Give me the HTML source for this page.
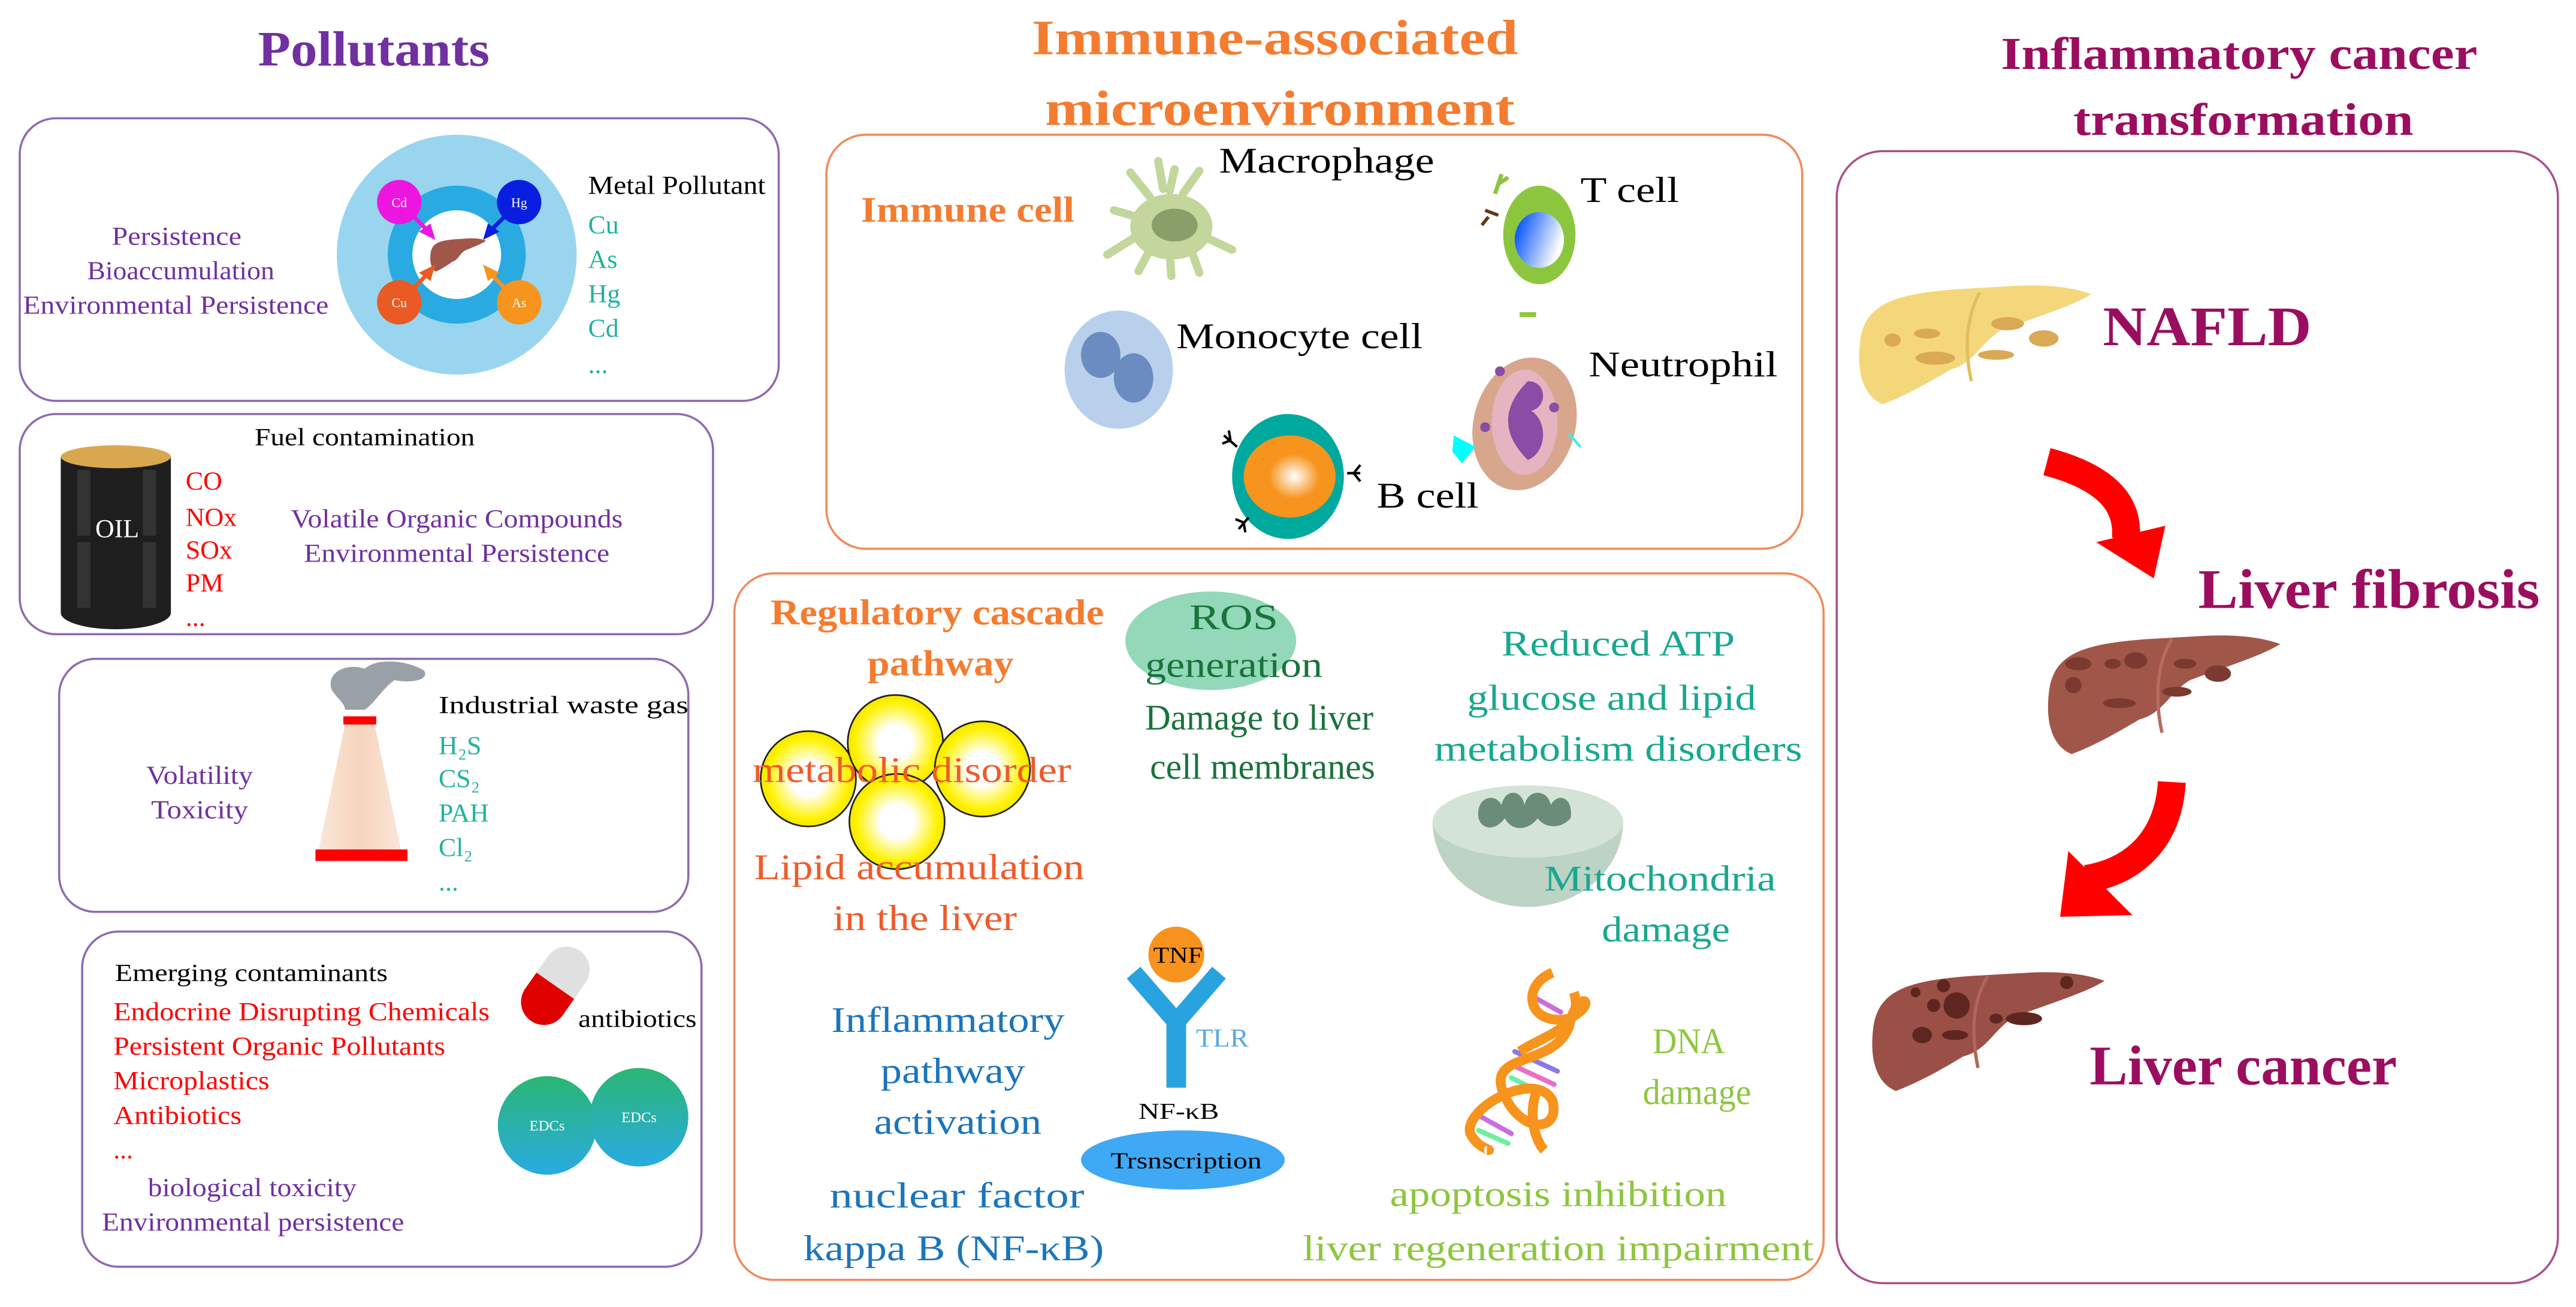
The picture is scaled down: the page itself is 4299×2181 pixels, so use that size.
<!DOCTYPE html>
<html><head><meta charset="utf-8"><style>
html,body{margin:0;padding:0;background:#fff;}
svg{display:block;}
text{font-family:"Liberation Serif",serif;}
</style></head><body>
<svg width="4299" height="2181" viewBox="0 0 1568 795.5" xmlns="http://www.w3.org/2000/svg">
<defs>
<radialGradient id="fat" cx="50%" cy="50%" r="50%"><stop offset="0.35" stop-color="#fff"/><stop offset="0.85" stop-color="#fff200"/><stop offset="1" stop-color="#f5e600"/></radialGradient>
<radialGradient id="borange" cx="55%" cy="50%" r="55%"><stop offset="0" stop-color="#fff"/><stop offset="0.5" stop-color="#f7941d"/><stop offset="1" stop-color="#f7941d"/></radialGradient>
<linearGradient id="tblue" x1="0" y1="0" x2="1" y2="0.4"><stop offset="0.1" stop-color="#0050ff"/><stop offset="1" stop-color="#fff"/></linearGradient>
<linearGradient id="edc" x1="0" y1="0" x2="0" y2="1"><stop offset="0" stop-color="#2bb673"/><stop offset="1" stop-color="#29abe2"/></linearGradient>
<linearGradient id="chim" x1="0" y1="0" x2="1" y2="0"><stop offset="0" stop-color="#fbe6d8"/><stop offset="0.5" stop-color="#f6d3bd"/><stop offset="1" stop-color="#fbe6d8"/></linearGradient>
<g id="liver"><path d="M0,40 C2,15 20,9 60,6 L95,4 C115,3 130,5 141,9 C130,16 110,22 86,31 C73,39 70,51 55,55 C45,61 30,70 14,76 C4,72 -2,60 0,40 Z"/></g>
</defs>

<!-- Titles -->
<text x="157" y="40" font-size="30" font-weight="bold" fill="#7030a0" textLength="141" lengthAdjust="spacingAndGlyphs">Pollutants</text>
<text x="628" y="33" font-size="30" font-weight="bold" fill="#f47c30" textLength="296" lengthAdjust="spacingAndGlyphs">Immune-associated</text>
<text x="636" y="76" font-size="30" font-weight="bold" fill="#f47c30" textLength="286" lengthAdjust="spacingAndGlyphs">microenvironment</text>
<text x="1218" y="42" font-size="28" font-weight="bold" fill="#9b0e5f" textLength="290" lengthAdjust="spacingAndGlyphs">Inflammatory cancer</text>
<text x="1262" y="82" font-size="28" font-weight="bold" fill="#9b0e5f" textLength="207" lengthAdjust="spacingAndGlyphs">transformation</text>

<!-- Boxes -->
<g fill="none" stroke-width="1.3">
<rect x="12" y="72" width="462" height="172" rx="22" stroke="#8e6ab0"/>
<rect x="12" y="252" width="422" height="134" rx="22" stroke="#8e6ab0"/>
<rect x="36" y="401" width="383" height="154" rx="22" stroke="#8e6ab0"/>
<rect x="50" y="567" width="377" height="204" rx="22" stroke="#8e6ab0"/>
<rect x="503" y="82" width="594" height="252" rx="24" stroke="#f08a5d"/>
<rect x="447" y="349" width="663" height="430" rx="24" stroke="#f08a5d"/>
<rect x="1118" y="92" width="439" height="689" rx="28" stroke="#a8508c"/>
</g>

<!-- Box1: metal -->
<circle cx="278" cy="155" r="73" fill="#99d5ef"/>
<circle cx="278" cy="155" r="42" fill="#29abe2"/>
<circle cx="278" cy="155" r="27" fill="#fff"/>
<use href="#liver" transform="translate(262,144) scale(0.24,0.28)" fill="#a0574a"/>
<circle cx="243" cy="123" r="13.5" fill="#ec16e0"/>
<circle cx="316" cy="123" r="13.5" fill="#0a1ee0"/>
<circle cx="243" cy="184" r="13.5" fill="#ea5a24"/>
<circle cx="316" cy="184" r="13.5" fill="#f7941d"/>
<path d="M252,132 L262,142" stroke="#ec16e0" stroke-width="2.5"/><polygon points="265,146 255,141 262,136" fill="#ec16e0"/>
<path d="M307,132 L297,142" stroke="#0a1ee0" stroke-width="2.5"/><polygon points="294,146 297,136 304,141" fill="#0a1ee0"/>
<path d="M252,175 L262,165" stroke="#ea5a24" stroke-width="2.5"/><polygon points="265,161 262,171 255,166" fill="#ea5a24"/>
<path d="M307,175 L297,165" stroke="#f7941d" stroke-width="2.5"/><polygon points="294,161 304,166 297,171" fill="#f7941d"/>
<g font-size="8" fill="#fff" text-anchor="middle"><text x="243" y="126">Cd</text><text x="316" y="126">Hg</text><text x="243" y="187">Cu</text><text x="316" y="187">As</text></g>
<g font-size="16" fill="#7030a0">
<text x="68" y="149" textLength="79" lengthAdjust="spacingAndGlyphs">Persistence</text>
<text x="53" y="170" textLength="114" lengthAdjust="spacingAndGlyphs">Bioaccumulation</text>
<text x="14" y="191" textLength="186" lengthAdjust="spacingAndGlyphs">Environmental Persistence</text>
</g>
<text x="358" y="118" font-size="16" fill="#000" textLength="108" lengthAdjust="spacingAndGlyphs">Metal Pollutant</text>
<g font-size="16" fill="#20b2a0"><text x="358" y="142">Cu</text><text x="358" y="163">As</text><text x="358" y="184">Hg</text><text x="358" y="205">Cd</text><text x="358" y="227">...</text></g>

<!-- Box2: fuel -->
<path d="M37,278 L37,373 A33.5,10 0 0 0 104,373 L104,278 Z" fill="#1e1e1e"/>
<ellipse cx="70.5" cy="278" rx="33.5" ry="7" fill="#d9a84e"/>
<rect x="47" y="286" width="8" height="40" fill="#333"/><rect x="47" y="330" width="8" height="40" fill="#333"/>
<rect x="87" y="286" width="8" height="40" fill="#333"/><rect x="87" y="330" width="8" height="40" fill="#333"/>
<text x="58" y="327" font-size="16" fill="#fff">OIL</text>
<text x="155" y="271" font-size="15" fill="#000" textLength="134" lengthAdjust="spacingAndGlyphs">Fuel contamination</text>
<g font-size="16" fill="#f00"><text x="113" y="298">CO</text><text x="113" y="320">NOx</text><text x="113" y="340">SOx</text><text x="113" y="360">PM</text><text x="113" y="381">...</text></g>
<g font-size="16" fill="#7030a0">
<text x="177" y="321" textLength="202" lengthAdjust="spacingAndGlyphs">Volatile Organic Compounds</text>
<text x="185" y="342" textLength="186" lengthAdjust="spacingAndGlyphs">Environmental Persistence</text>
</g>

<!-- Box3: industrial -->
<path d="M202,420 C198,410 210,403 222,407 C230,400 248,402 258,408 C262,414 250,416 240,414 C232,420 228,428 222,432 L210,432 C210,428 205,425 202,420 Z" fill="#9aa0a8"/>
<rect x="209" y="436" width="20" height="5" fill="#f00"/>
<polygon points="210,441 228,441 244,517 194,517" fill="url(#chim)"/>
<rect x="192" y="517" width="56" height="7" fill="#f00"/>
<text x="267" y="434" font-size="15" fill="#000" textLength="152" lengthAdjust="spacingAndGlyphs">Industrial waste gas</text>
<g font-size="16" fill="#20b2a0"><text x="267" y="459">H₂S</text><text x="267" y="479">CS₂</text><text x="267" y="500">PAH</text><text x="267" y="521">Cl₂</text><text x="267" y="542">...</text></g>
<g font-size="16" fill="#7030a0"><text x="89" y="477" textLength="65" lengthAdjust="spacingAndGlyphs">Volatility</text><text x="92" y="498" textLength="59" lengthAdjust="spacingAndGlyphs">Toxicity</text></g>

<!-- Box4: emerging -->
<text x="70" y="597" font-size="15" fill="#000" textLength="166" lengthAdjust="spacingAndGlyphs">Emerging contaminants</text>
<g font-size="16" fill="#f00">
<text x="69" y="621" textLength="229" lengthAdjust="spacingAndGlyphs">Endocrine Disrupting Chemicals</text>
<text x="69" y="642" textLength="202" lengthAdjust="spacingAndGlyphs">Persistent Organic Pollutants</text>
<text x="69" y="663" textLength="95" lengthAdjust="spacingAndGlyphs">Microplastics</text>
<text x="69" y="684" textLength="78" lengthAdjust="spacingAndGlyphs">Antibiotics</text>
<text x="69" y="705">...</text>
</g>
<g font-size="16" fill="#7030a0">
<text x="90" y="728" textLength="127" lengthAdjust="spacingAndGlyphs">biological toxicity</text>
<text x="62" y="749" textLength="184" lengthAdjust="spacingAndGlyphs">Environmental persistence</text>
</g>
<g transform="rotate(35 338 600)">
<path d="M324,600 L324,588 A14,14 0 0 1 352,588 L352,600 Z" fill="#e0e0e0"/>
<path d="M324,600 L352,600 L352,612 A14,14 0 0 1 324,612 Z" fill="#e00000"/>
</g>
<text x="352" y="625" font-size="15" fill="#000" textLength="72" lengthAdjust="spacingAndGlyphs">antibiotics</text>
<circle cx="333" cy="685" r="30" fill="url(#edc)"/>
<circle cx="389" cy="680" r="30" fill="url(#edc)"/>
<g font-size="9" fill="#fff" text-anchor="middle"><text x="333" y="688">EDCs</text><text x="389" y="683">EDCs</text></g>

<!-- Box5: immune cells -->
<text x="524" y="135" font-size="22" font-weight="bold" fill="#f47c30" textLength="130" lengthAdjust="spacingAndGlyphs">Immune cell</text>
<g font-size="22" fill="#000">
<text x="742" y="105" textLength="131" lengthAdjust="spacingAndGlyphs">Macrophage</text>
<text x="962" y="123" textLength="60" lengthAdjust="spacingAndGlyphs">T cell</text>
<text x="716" y="212" textLength="150" lengthAdjust="spacingAndGlyphs">Monocyte cell</text>
<text x="967" y="229" textLength="115" lengthAdjust="spacingAndGlyphs">Neutrophil</text>
<text x="838" y="309" textLength="62" lengthAdjust="spacingAndGlyphs">B cell</text>
</g>
<!-- macrophage -->
<g stroke="#c3d69b" stroke-width="5" stroke-linecap="round">
<path d="M708,115 L705,98"/><path d="M700,120 L688,105"/><path d="M720,118 L730,104"/><path d="M712,116 L715,103"/>
<path d="M690,145 L674,155"/><path d="M735,145 L750,152"/><path d="M700,152 L693,165"/><path d="M712,155 L713,168"/><path d="M725,152 L730,166"/><path d="M692,132 L678,128"/>
</g>
<ellipse cx="713" cy="138" rx="25" ry="20" fill="#c3d69b"/>
<ellipse cx="715" cy="137" rx="14" ry="10" fill="#8a9e6a"/>
<!-- T cell -->
<path d="M910,118 L914,106 M912,112 L918,108" stroke="#8cc63f" stroke-width="2.5"/>
<path d="M912,131 L904,128 M906,132 L902,137" stroke="#603813" stroke-width="2"/>
<ellipse cx="937" cy="143" rx="22" ry="30" fill="#8cc63f"/>
<ellipse cx="937" cy="146" rx="15" ry="17" fill="url(#tblue)"/>
<!-- monocyte -->
<ellipse cx="681" cy="225" rx="33" ry="36" fill="#b8d0ec"/>
<ellipse cx="670" cy="216" rx="12" ry="14" fill="#6a8cc0"/>
<ellipse cx="690" cy="230" rx="12" ry="15" fill="#6a8cc0"/>
<!-- neutrophil -->
<rect x="925" y="190" width="10" height="3" fill="#8cc63f"/>
<ellipse cx="928" cy="258" rx="31" ry="41" fill="#d8a68c" transform="rotate(15 928 258)"/>
<ellipse cx="928" cy="257" rx="20" ry="32" fill="#e6b4c0"/>
<path d="M930,232 C942,232 942,248 932,250 C942,256 942,275 930,280 C920,270 918,262 918,256 C918,248 922,240 930,232 Z" fill="#8a4ca5"/>
<circle cx="913" cy="226" r="3" fill="#8a4ca5"/><circle cx="946" cy="248" r="3" fill="#8a4ca5"/><circle cx="904" cy="260" r="3" fill="#8a4ca5"/>
<path d="M885,265 L898,272 L890,282 L884,275 Z" fill="#00ffff"/>
<path d="M955,264 L962,272" stroke="#3ee" stroke-width="1.5"/>
<!-- B cell -->
<ellipse cx="784" cy="290" rx="34" ry="38" fill="#00a99d"/>
<ellipse cx="785" cy="290" rx="28" ry="25" fill="url(#borange)"/>
<g stroke="#000" stroke-width="1.5" fill="none">
<path d="M753,272 L745,265 M749,268 L744,270 M749,268 L748,262"/>
<path d="M820,288 L828,288 M824,288 L828,283 M824,288 L828,293"/>
<path d="M760,315 L754,322 M757,318 L752,316 M757,318 L758,324"/>
</g>

<!-- Box6 -->
<text x="469" y="380" font-size="22" font-weight="bold" fill="#f47c30" textLength="203" lengthAdjust="spacingAndGlyphs">Regulatory cascade</text>
<text x="528" y="411" font-size="22" font-weight="bold" fill="#f47c30" textLength="89" lengthAdjust="spacingAndGlyphs">pathway</text>
<ellipse cx="737" cy="390" rx="52" ry="30" fill="#93d9b9"/>
<g font-size="22" fill="#19733b">
<text x="724" y="383" textLength="54" lengthAdjust="spacingAndGlyphs">ROS</text>
<text x="697" y="412" textLength="108" lengthAdjust="spacingAndGlyphs">generation</text>
<text x="697" y="444" textLength="139" lengthAdjust="spacingAndGlyphs">Damage to liver</text>
<text x="700" y="474" textLength="137" lengthAdjust="spacingAndGlyphs">cell membranes</text>
</g>
<g stroke="#222" stroke-width="1" fill="url(#fat)">
<circle cx="492" cy="474" r="29"/>
<circle cx="545" cy="452" r="29"/>
<circle cx="598" cy="468" r="29"/>
<circle cx="546" cy="500" r="29"/>
</g>
<g font-size="22" fill="#f15a29">
<text x="458" y="476" textLength="194" lengthAdjust="spacingAndGlyphs">metabolic disorder</text>
<text x="459" y="535" textLength="201" lengthAdjust="spacingAndGlyphs">Lipid accumulation</text>
<text x="507" y="566" textLength="112" lengthAdjust="spacingAndGlyphs">in the liver</text>
</g>
<g font-size="22" fill="#19a88f">
<text x="914" y="399" textLength="142" lengthAdjust="spacingAndGlyphs">Reduced ATP</text>
<text x="893" y="432" textLength="176" lengthAdjust="spacingAndGlyphs">glucose and lipid</text>
<text x="873" y="463" textLength="224" lengthAdjust="spacingAndGlyphs">metabolism disorders</text>
</g>
<path d="M872,500 A58,52 0 0 0 988,500 Z" fill="#bcd3c6"/>
<ellipse cx="930" cy="500" rx="58" ry="22" fill="#d4e3d8"/>
<path d="M900,498 C898,485 910,482 914,490 C916,480 926,480 928,490 C930,480 942,480 944,490 C948,482 958,485 956,498 C950,505 940,504 936,498 C930,506 920,506 916,498 C910,506 902,505 900,498 Z" fill="#6b8c78"/>
<g font-size="22" fill="#19a88f">
<text x="940" y="542" textLength="141" lengthAdjust="spacingAndGlyphs">Mitochondria</text>
<text x="975" y="573" textLength="78" lengthAdjust="spacingAndGlyphs">damage</text>
</g>
<g font-size="22" fill="#1b75bc">
<text x="506" y="628" textLength="142" lengthAdjust="spacingAndGlyphs">Inflammatory</text>
<text x="536" y="659" textLength="88" lengthAdjust="spacingAndGlyphs">pathway</text>
<text x="532" y="690" textLength="102" lengthAdjust="spacingAndGlyphs">activation</text>
<text x="505" y="735" textLength="155" lengthAdjust="spacingAndGlyphs">nuclear factor</text>
<text x="489" y="767" textLength="183" lengthAdjust="spacingAndGlyphs">kappa B (NF-κB)</text>
</g>
<path d="M690,592 L716,622 L742,592" stroke="#29a3df" stroke-width="11" fill="none"/>
<rect x="710" y="618" width="12" height="44" fill="#29a3df"/>
<circle cx="716" cy="581" r="17" fill="#f7931e"/>
<text x="702" y="586" font-size="14" fill="#000" textLength="30" lengthAdjust="spacingAndGlyphs">TNF</text>
<text x="728" y="637" font-size="16" fill="#5aa9e6" textLength="32" lengthAdjust="spacingAndGlyphs">TLR</text>
<text x="693" y="681" font-size="14" fill="#000" textLength="49" lengthAdjust="spacingAndGlyphs">NF-κB</text>
<ellipse cx="720" cy="706" rx="62" ry="18" fill="#3fa9f5"/>
<text x="676" y="711" font-size="14" fill="#000" textLength="92" lengthAdjust="spacingAndGlyphs">Trsnscription</text>
<!-- DNA -->
<g stroke-width="3" stroke-linecap="round">
<path d="M932,606 L950,616" stroke="#c86ee0"/><path d="M934,614 L952,624" stroke="#6cf0a0"/>
<path d="M922,640 L948,652" stroke="#8a7ae0"/><path d="M920,648 L946,660" stroke="#e870c8"/><path d="M920,656 L944,668" stroke="#6cf0a0"/>
<path d="M902,680 L920,690" stroke="#c86ee0"/><path d="M900,688 L918,696" stroke="#6cf0a0"/>
</g>
<path d="M945,592 C925,600 930,625 955,620 C975,610 960,600 955,625 C945,650 905,640 915,665 C925,690 950,690 945,670 C935,650 890,675 895,690 C900,700 910,700 905,700" fill="none" stroke="#f7941d" stroke-width="6"/>
<path d="M958,604 C965,625 940,630 925,640" fill="none" stroke="#f7941d" stroke-width="6"/>
<path d="M935,665 C930,680 935,695 940,700" fill="none" stroke="#f7941d" stroke-width="6"/>
<g font-size="22" fill="#8dc63f">
<text x="1006" y="641" textLength="44" lengthAdjust="spacingAndGlyphs">DNA</text>
<text x="1000" y="672" textLength="66" lengthAdjust="spacingAndGlyphs">damage</text>
<text x="846" y="734" textLength="205" lengthAdjust="spacingAndGlyphs">apoptosis inhibition</text>
<text x="793" y="767" textLength="311" lengthAdjust="spacingAndGlyphs">liver regeneration impairment</text>
</g>

<!-- Right column -->
<use href="#liver" transform="translate(1132,170)" fill="#f3d77a"/>
<g fill="#d9a955"><ellipse cx="1152" cy="207" rx="5" ry="4"/><ellipse cx="1173" cy="203" rx="8" ry="3"/><ellipse cx="1178" cy="218" rx="12" ry="4"/><ellipse cx="1222" cy="197" rx="10" ry="4"/><ellipse cx="1244" cy="206" rx="9" ry="5"/><ellipse cx="1215" cy="216" rx="11" ry="3"/></g>
<path d="M1205,178 C1196,195 1196,215 1200,232" stroke="#e2bf5e" stroke-width="2" fill="none"/>
<text x="1280" y="210" font-size="34" font-weight="bold" fill="#9b0e5f" textLength="127" lengthAdjust="spacingAndGlyphs">NAFLD</text>

<path d="M1246,281 C1280,290 1296,305 1294,328" stroke="#f00" stroke-width="17" fill="none"/>
<polygon points="1276,330 1318,320 1311,352" fill="#f00"/>

<use href="#liver" transform="translate(1247,383)" fill="#a0574a"/>
<g fill="#7a3a30"><ellipse cx="1265" cy="404" rx="8" ry="4"/><ellipse cx="1262" cy="417" rx="5" ry="5"/><ellipse cx="1286" cy="404" rx="5" ry="3"/><ellipse cx="1300" cy="402" rx="7" ry="5"/><ellipse cx="1290" cy="428" rx="10" ry="3"/><ellipse cx="1330" cy="404" rx="7" ry="3"/><ellipse cx="1350" cy="410" rx="8" ry="5"/><ellipse cx="1325" cy="421" rx="9" ry="3"/></g>
<path d="M1322,389 C1312,405 1312,428 1316,446" stroke="#b86a5c" stroke-width="2" fill="none"/>
<text x="1338" y="370" font-size="34" font-weight="bold" fill="#9b0e5f" textLength="208" lengthAdjust="spacingAndGlyphs">Liver fibrosis</text>

<path d="M1322,476 C1320,510 1300,530 1270,535" stroke="#f00" stroke-width="17" fill="none"/>
<polygon points="1254,558 1259,518 1298,557" fill="#f00"/>

<use href="#liver" transform="translate(1140,588)" fill="#9a5046"/>
<g fill="#5e2620"><circle cx="1166" cy="604" r="3"/><circle cx="1177" cy="612" r="4"/><circle cx="1191" cy="612" r="8"/><circle cx="1183" cy="600" r="4"/><ellipse cx="1170" cy="630" rx="6" ry="5"/><ellipse cx="1232" cy="620" rx="11" ry="4"/><circle cx="1258" cy="598" r="4"/><ellipse cx="1215" cy="620" rx="4" ry="3"/><ellipse cx="1190" cy="630" rx="8" ry="3"/></g>
<path d="M1210,594 C1200,610 1200,630 1204,650" stroke="#b0665a" stroke-width="2" fill="none"/>
<text x="1272" y="660" font-size="34" font-weight="bold" fill="#9b0e5f" textLength="187" lengthAdjust="spacingAndGlyphs">Liver cancer</text>
</svg>
</body></html>
